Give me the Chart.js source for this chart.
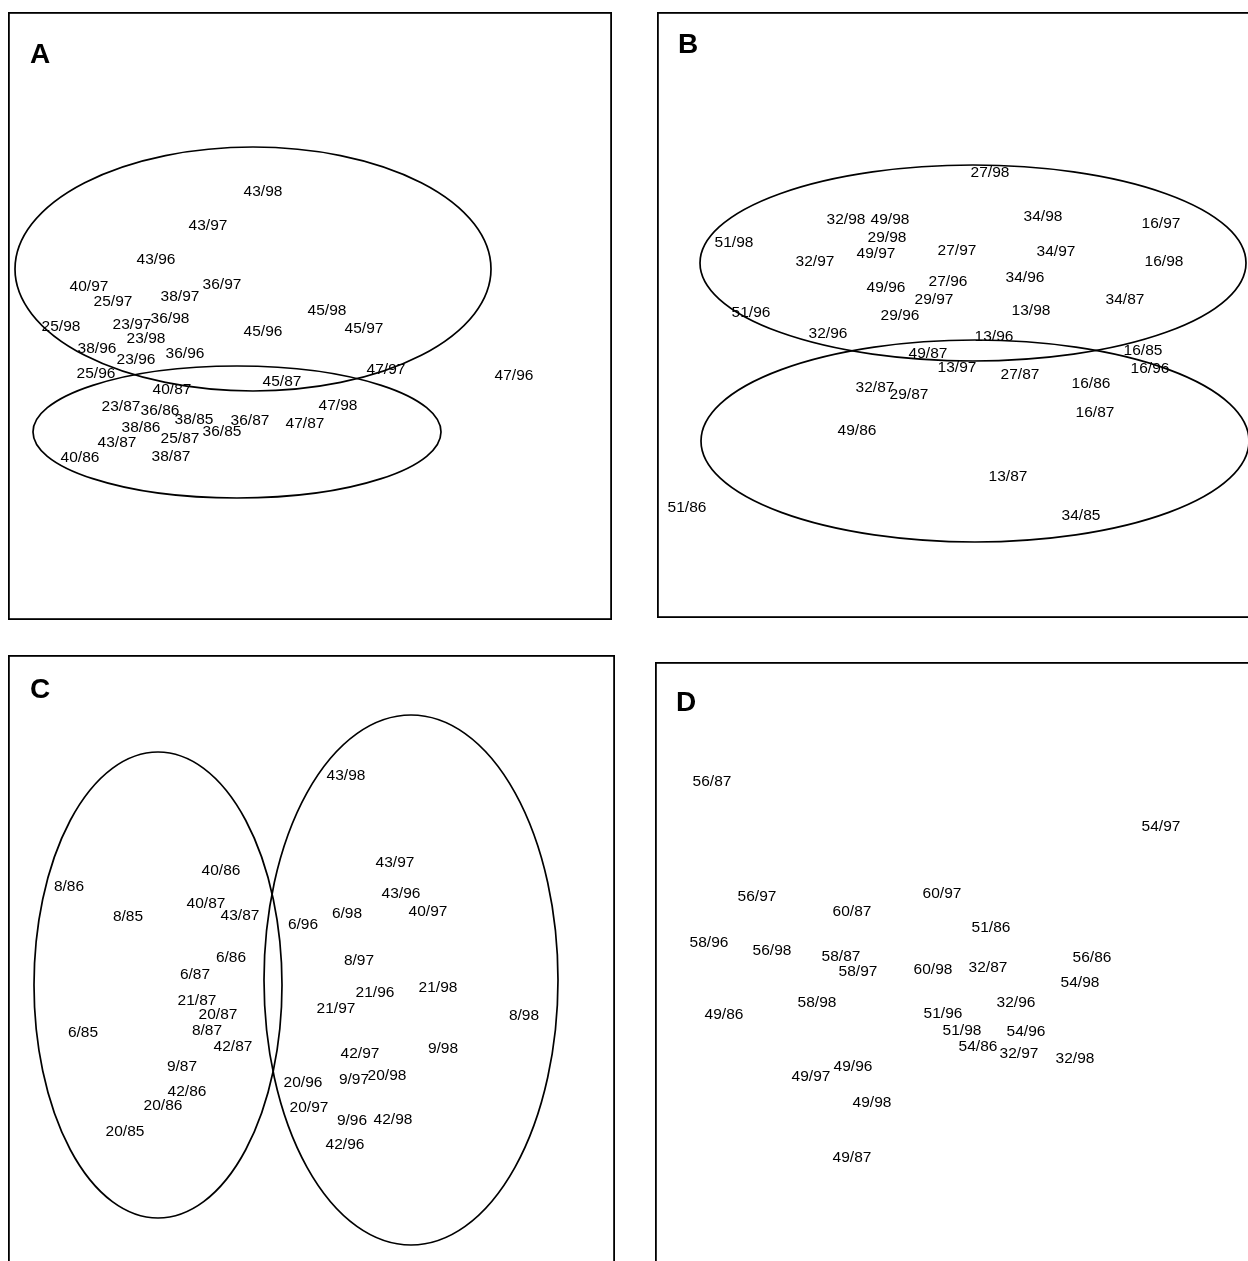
<!DOCTYPE html>
<html><head><meta charset="utf-8">
<script src="https://cdn.jsdelivr.net/npm/chart.js@4.4.1/dist/chart.umd.min.js"></script>
<style>
html,body{margin:0;padding:0;background:#fff;width:1248px;height:1261px;overflow:hidden;position:relative}
canvas{position:absolute}
</style></head><body>
<canvas id="cA" width="604" height="608" style="left:8px;top:12px;width:604px;height:608px"></canvas>
<canvas id="cB" width="600" height="606" style="left:657px;top:12px;width:600px;height:606px"></canvas>
<canvas id="cC" width="607" height="620" style="left:8px;top:655px;width:607px;height:620px"></canvas>
<canvas id="cD" width="600" height="610" style="left:655px;top:662px;width:600px;height:610px"></canvas>
<script>
// ---------- Panel A ----------
const labelsA = ["43/98","43/97","43/96","40/97","25/97","38/97","36/97","36/98","23/97","25/98","23/98","38/96","23/96","36/96","45/98","45/97","45/96","25/96","40/87","45/87","47/97","47/96","23/87","36/86","38/85","36/87","36/85","47/98","47/87","38/86","25/87","43/87","40/86","38/87"];
const dim1A = [255,200,148,81,105,172,214,162,124,53,138,89,128,177,319,356,255,88,164,274,378,506,113,152,186,242,214,330,297,133,172,109,72,163];
const dim2A = [180,214,248,275,290,285,273,307,313,315,327,337,348,342,299,317,320,362,378,370,358,364,395,399,408,409,420,394,412,416,427,431,446,445];
const ellCxA = [245,229], ellCyA = [257,420], ellRxA = [238,204], ellRyA = [122,66];

// ---------- Panel B ----------
const labelsB = ["27/98","32/98","49/98","29/98","49/97","34/98","16/97","51/98","32/97","27/97","34/97","16/98","27/96","34/96","49/96","29/97","29/96","13/98","34/87","51/96","32/96","13/96","49/87","16/85","13/97","27/87","16/96","16/86","32/87","29/87","16/87","49/86","13/87","51/86","34/85"];
const dim1B = [333,189,233,230,219,386,504,77,158,300,399,507,291,368,229,277,243,374,468,94,171,337,271,486,300,363,493,434,218,252,438,200,351,30,424];
const dim2B = [161,208,208,226,242,205,212,231,250,239,240,250,270,266,276,288,304,299,288,301,322,325,342,339,356,363,357,372,376,383,401,419,465,496,504];
const ellCxB = [316,318], ellCyB = [251,429], ellRxB = [273,274], ellRyB = [98,101];

// ---------- Panel C ----------
const labelsC = ["43/98","40/86","8/86","43/97","43/96","40/87","8/85","43/87","6/96","6/98","40/97","6/86","8/97","6/87","21/96","21/98","21/87","21/97","20/87","6/85","8/87","42/87","8/98","42/97","9/98","9/87","20/96","9/97","20/98","42/86","20/86","20/97","9/96","42/98","20/85","42/96"];
const dim1C = [338,213,61,387,393,198,120,232,295,339,420,223,351,187,367,430,189,328,210,75,199,225,516,352,435,174,295,346,379,179,155,301,344,385,117,337];
const dim2C = [121,216,232,208,239,249,262,261,270,259,257,303,306,320,338,333,346,354,360,378,376,392,361,399,394,412,428,425,421,437,451,453,466,465,477,490];
const ellCxC = [150,403], ellCyC = [330,325], ellRxC = [124,147], ellRyC = [233,265];

// ---------- Panel D ----------
const labelsD = ["56/87","54/97","56/97","60/97","60/87","51/86","58/96","56/98","58/87","58/97","60/98","32/87","56/86","54/98","58/98","32/96","49/86","51/96","51/98","54/96","54/86","32/97","32/98","49/96","49/97","49/98","49/87"];
const dim1D = [57,506,102,287,197,336,54,117,186,203,278,333,437,425,162,361,69,288,307,371,323,364,420,198,156,217,197];
const dim2D = [120,165,235,232,250,266,281,289,295,310,308,306,296,321,341,341,353,352,369,370,385,392,397,405,415,441,496];
const ellCxD = [], ellCyD = [], ellRxD = [], ellRyD = [];

const panelTitles = ["A","B","C","D"];

const FONT = '15.5px "Liberation Sans", Arial, Helvetica, sans-serif';
const TITLE_FONT = 'bold 28px "Liberation Sans", Arial, Helvetica, sans-serif';

const panelPlugin = {
  id: 'panelPlugin',
  afterDatasetsDraw(chart, args, opts) {
    const ctx = chart.ctx, xs = chart.scales.x, ys = chart.scales.y, ca = chart.chartArea;
    ctx.save();
    // frame
    ctx.strokeStyle = '#000'; ctx.lineWidth = 1.8;
    ctx.strokeRect(ca.left + 0.9, ca.top + 0.9, ca.right - ca.left - 1.8, ca.bottom - ca.top - 1.8);
    // title letter
    ctx.fillStyle = '#000'; ctx.font = TITLE_FONT; ctx.textAlign = 'center'; ctx.textBaseline = 'middle';
    ctx.fillText(opts.title, ca.left + opts.titlePos[0], ca.top + opts.titlePos[1]);
    // ellipses
    const e = opts.ellipses;
    ctx.lineWidth = 1.7;
    for (let i = 0; i < e.cx.length; i++) {
      const px = xs.getPixelForValue(e.cx[i]), py = ys.getPixelForValue(e.cy[i]);
      const rx = Math.abs(xs.getPixelForValue(e.cx[i] + e.rx[i]) - px);
      const ry = Math.abs(ys.getPixelForValue(e.cy[i] + e.ry[i]) - py);
      ctx.beginPath(); ctx.ellipse(px, py, rx, ry, 0, 0, Math.PI * 2); ctx.stroke();
    }
    // point labels
    ctx.font = FONT; ctx.fillStyle = '#000';
    const meta = chart.getDatasetMeta(0);
    meta.data.forEach((pt, i) => {
      ctx.fillText(chart.data.datasets[0].data[i].label, pt.x, pt.y);
    });
    ctx.restore();
  }
};

function makePanel(id, labels, d1, d2, ell, title, titlePos) {
  const cv = document.getElementById(id);
  const W = cv.width, H = cv.height;
  new Chart(cv, {
    type: 'scatter',
    data: { datasets: [{ data: labels.map((l, i) => ({ x: d1[i], y: d2[i], label: l })), pointRadius: 0, pointHoverRadius: 0 }] },
    options: {
      responsive: false, animation: false, events: [],
      layout: { padding: 0 },
      plugins: { legend: { display: false }, tooltip: { enabled: false },
        panelPlugin: { title: title, titlePos: titlePos, ellipses: ell } },
      scales: {
        x: { type: 'linear', display: false, min: 0, max: W },
        y: { type: 'linear', display: false, min: 0, max: H, reverse: true }
      }
    },
    plugins: [panelPlugin]
  });
}

makePanel('cA', labelsA, dim1A, dim2A, {cx: ellCxA, cy: ellCyA, rx: ellRxA, ry: ellRyA}, panelTitles[0], [32, 43]);
makePanel('cB', labelsB, dim1B, dim2B, {cx: ellCxB, cy: ellCyB, rx: ellRxB, ry: ellRyB}, panelTitles[1], [31, 33]);
makePanel('cC', labelsC, dim1C, dim2C, {cx: ellCxC, cy: ellCyC, rx: ellRxC, ry: ellRyC}, panelTitles[2], [32, 35]);
makePanel('cD', labelsD, dim1D, dim2D, {cx: ellCxD, cy: ellCyD, rx: ellRxD, ry: ellRyD}, panelTitles[3], [31, 41]);
</script>
</body></html>
